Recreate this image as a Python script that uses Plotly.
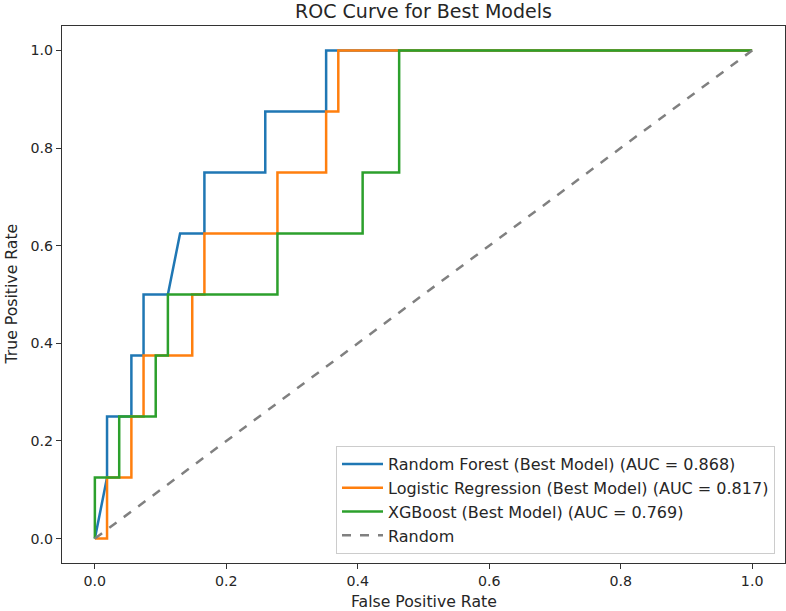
import plotly.graph_objects as go

# ROC data
rf_fpr = [0, 1/54, 1/54, 3/54, 3/54, 4/54, 4/54, 6/54, 7/54, 9/54, 9/54, 14/54, 14/54, 19/54, 19/54, 1.0]
rf_tpr = [0, 0.125, 0.25, 0.25, 0.375, 0.375, 0.5, 0.5, 0.625, 0.625, 0.75, 0.75, 0.875, 0.875, 1.0, 1.0]

lr_fpr = [0, 1/54, 1/54, 3/54, 3/54, 4/54, 4/54, 8/54, 8/54, 9/54, 9/54, 15/54, 15/54, 19/54, 19/54, 20/54, 20/54, 1.0]
lr_tpr = [0, 0, 0.125, 0.125, 0.25, 0.25, 0.375, 0.375, 0.5, 0.5, 0.625, 0.625, 0.75, 0.75, 0.875, 0.875, 1.0, 1.0]

xgb_fpr = [0, 0, 2/54, 2/54, 5/54, 5/54, 6/54, 6/54, 15/54, 15/54, 22/54, 22/54, 25/54, 25/54, 1.0]
xgb_tpr = [0, 0.125, 0.125, 0.25, 0.25, 0.375, 0.375, 0.5, 0.5, 0.625, 0.625, 0.75, 0.75, 1.0, 1.0]

rand_x = [0, 1]
rand_y = [0, 1]

names = [
    "Random Forest (Best Model) (AUC = 0.868)",
    "Logistic Regression (Best Model) (AUC = 0.817)",
    "XGBoost (Best Model) (AUC = 0.769)",
    "Random",
]
colors = ["#1f77b4", "#ff7f0e", "#2ca02c", "gray"]
tick_vals = [0, 0.2, 0.4, 0.6, 0.8, 1.0]
tick_text = ["0.0", "0.2", "0.4", "0.6", "0.8", "1.0"]

fig = go.Figure()
series = [(rf_fpr, rf_tpr), (lr_fpr, lr_tpr), (xgb_fpr, xgb_tpr)]
for i, (x, y) in enumerate(series):
    fig.add_trace(go.Scatter(x=x, y=y, mode="lines", name=names[i],
                             line=dict(color=colors[i], width=2.5),
                             legendgroup=f"g{i}"))
fig.add_trace(go.Scatter(x=rand_x, y=rand_y, mode="lines", name=names[3],
                         line=dict(color=colors[3], width=2.5, dash="dash"),
                         legendgroup="g3"))

font = "DejaVu Sans, sans-serif"
txt = "#262626"
axis_common = dict(
    range=[-0.05, 1.05], showgrid=False, zeroline=False, automargin=False,
    showline=True, mirror=True, linecolor="#333333", linewidth=1.3,
    ticks="outside", ticklen=5, tickcolor="#333333", tickwidth=1.3,
    tickfont=dict(family=font, size=14.2, color=txt),
    tickvals=tick_vals, ticktext=tick_text,
)

L, R, T, B = 62, 1, 26, 48
W, H = 786, 611
pw, ph = W - L - R, H - T - B

fig.update_layout(
    width=W, height=H,
    margin=dict(l=L, r=R, t=T, b=B),
    plot_bgcolor="white", paper_bgcolor="white",
    font=dict(family=font, color=txt),
    title=dict(text="ROC Curve for Best Models", x=0.5, xref="paper", xanchor="center",
               y=1 - 11/H, yanchor="middle", font=dict(family=font, size=19, color=txt)),
    xaxis=axis_common,
    yaxis=axis_common,
    legend=dict(x=1 - 10/pw, y=9/ph, xanchor="right", yanchor="bottom",
                bgcolor="rgba(255,255,255,0.8)", bordercolor="#cccccc", borderwidth=1,
                font=dict(family=font, size=16, color=txt), itemwidth=41,
                traceorder="grouped", tracegroupgap=0),
    showlegend=True,
    annotations=[
        dict(text="False Positive Rate", xref="paper", yref="paper",
             x=0.5, y=-(601 - (H - B)) / ph, xanchor="center", yanchor="middle",
             showarrow=False, font=dict(family=font, size=15.7, color=txt)),
        dict(text="True Positive Rate", xref="paper", yref="paper",
             x=-(L - 11) / pw, y=0.5, xanchor="center", yanchor="middle", textangle=-90,
             showarrow=False, font=dict(family=font, size=15.7, color=txt)),
    ],
)

fig.write_html("out.html", config={"displayModeBar": False},
               post_script="document.body.style.margin='0';")
